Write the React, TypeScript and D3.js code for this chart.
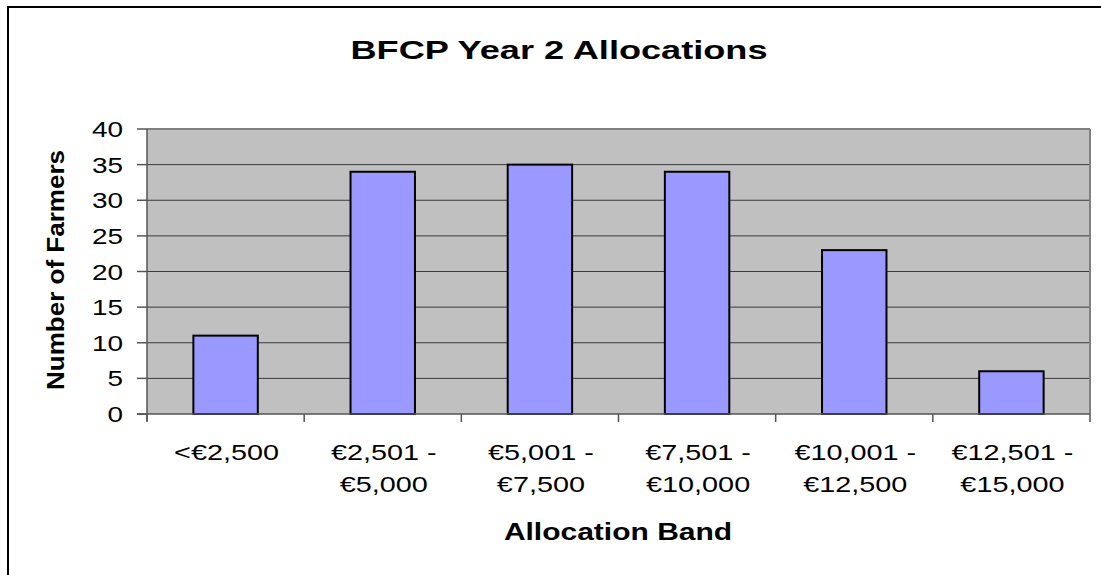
import React from "react";
import * as d3 from "d3";

const categories: string[][] = [
  ["<€2,500"],
  ["€2,501 -", "€5,000"],
  ["€5,001 -", "€7,500"],
  ["€7,501 -", "€10,000"],
  ["€10,001 -", "€12,500"],
  ["€12,501 -", "€15,000"],
];
const farmers: number[] = [11, 34, 35, 34, 23, 6];
const yTicks: number[] = [0, 5, 10, 15, 20, 25, 30, 35, 40];
const title = "BFCP Year 2 Allocations";
const xTitle = "Allocation Band";
const yTitle = "Number of Farmers";

const W = 1101;
const H = 575;
const plot = { left: 147, right: 1090, top: 129, bottom: 414 };
const FONT = "Arial, 'Liberation Sans', Helvetica, sans-serif";

export default function App() {
  const keys = categories.map((_, i) => String(i));
  const x = d3
    .scaleBand<string>()
    .domain(keys)
    .range([plot.left, plot.right])
    .paddingInner(0.59)
    .paddingOuter(0.295);
  const step = (plot.right - plot.left) / categories.length;
  const y = d3.scaleLinear().domain([0, 40]).range([plot.bottom, plot.top]);
  const boundaries = d3.range(categories.length + 1).map((i) => plot.left + i * step);

  return (
    <svg
      width={W}
      height={H}
      style={{ position: "absolute", left: 0, top: 0, background: "#fff" }}
      fontFamily={FONT}
    >
      <rect x={0} y={0} width={W} height={H} fill="#fff" />
      {/* outer chart border (only left and top visible) */}
      <path d={`M8,${H} L8,7 L${W},7`} fill="none" stroke="#000" strokeWidth={2} />

      {/* title */}
      <text
        transform={`translate(559,59) scale(1.39,1)`}
        textAnchor="middle"
        fontWeight="bold"
        fontSize={26}
        fill="#000"
      >
        {title}
      </text>

      {/* plot background */}
      <rect
        x={plot.left}
        y={plot.top}
        width={plot.right - plot.left}
        height={plot.bottom - plot.top}
        fill="#C0C0C0"
      />
      {/* gridlines */}
      {yTicks
        .filter((t) => t > 0 && t < 40)
        .map((t) => (
          <line
            key={"g" + t}
            x1={plot.left}
            x2={plot.right}
            y1={y(t)}
            y2={y(t)}
            stroke="#3a3a3a"
            strokeWidth={1}
          />
        ))}
      {/* plot border top/right */}
      <line x1={plot.left} x2={plot.right} y1={plot.top} y2={plot.top} stroke="#808080" strokeWidth={2} />
      <line x1={plot.right} x2={plot.right} y1={plot.top} y2={plot.bottom} stroke="#808080" strokeWidth={2} />

      {/* bars */}
      {farmers.map((v, i) => (
        <rect
          key={"b" + i}
          x={x(String(i))!}
          y={y(v)}
          width={x.bandwidth()}
          height={y(0) - y(v)}
          fill="#9999FF"
          stroke="#000"
          strokeWidth={2}
        />
      ))}

      {/* axes */}
      <line x1={plot.left} x2={plot.left} y1={plot.top} y2={plot.bottom + 7} stroke="#555" strokeWidth={1.5} />
      <line x1={plot.left - 10} x2={plot.right} y1={plot.bottom} y2={plot.bottom} stroke="#555" strokeWidth={1.5} />
      {yTicks.map((t) => (
        <g key={"yt" + t}>
          <line x1={plot.left - 10} x2={plot.left} y1={y(t)} y2={y(t)} stroke="#555" strokeWidth={1.5} />
          <text
            transform={`translate(123,${y(t) + 8}) scale(1.27,1)`}
            textAnchor="end"
            fontSize={22}
            fill="#000"
          >
            {t}
          </text>
        </g>
      ))}
      {boundaries.map((bx, i) => (
        <line key={"xt" + i} x1={bx} x2={bx} y1={plot.bottom} y2={plot.bottom + 8} stroke="#555" strokeWidth={1.5} />
      ))}
      {categories.map((lines, i) => {
        const cx = x(String(i))! + x.bandwidth() / 2 + 1;
        return lines.map((ln, j) => (
          <text
            key={"xl" + i + "-" + j}
            transform={`translate(${cx},${460 + j * 32}) scale(1.31,1)`}
            textAnchor="middle"
            fontSize={22}
            fill="#000"
          >
            {ln}
          </text>
        ));
      })}

      {/* axis titles */}
      <text
        transform={`translate(618,540) scale(1.25,1)`}
        textAnchor="middle"
        fontWeight="bold"
        fontSize={24}
        fill="#000"
      >
        {xTitle}
      </text>
      <text
        transform={`translate(64,270) rotate(-90) scale(1.085,1)`}
        textAnchor="middle"
        fontWeight="bold"
        fontSize={24}
        fill="#000"
      >
        {yTitle}
      </text>
    </svg>
  );
}
